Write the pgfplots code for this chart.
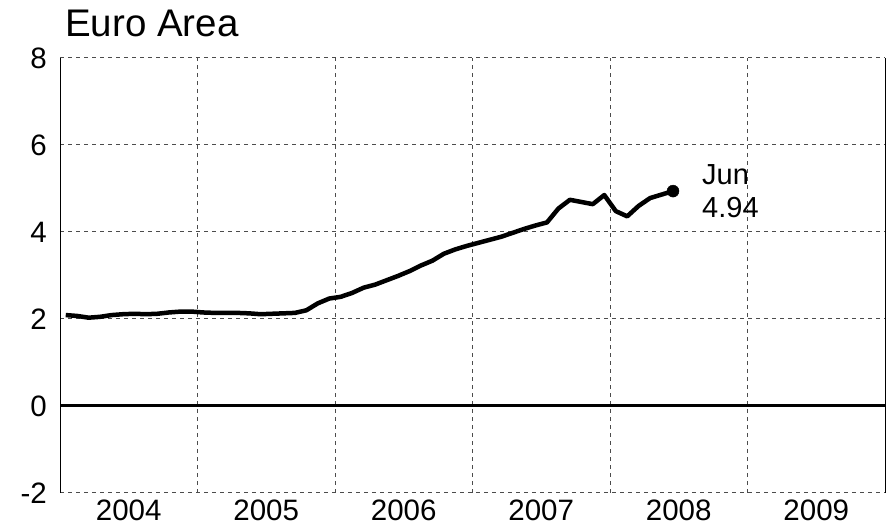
\documentclass[border=0pt]{standalone}
\usepackage{pgfplots}
\pgfplotsset{compat=1.18}
\usepackage{fontspec}
\setmainfont{Liberation Sans}
\begin{document}
\begin{tikzpicture}[x=1pt,y=1pt]
\useasboundingbox (-60,-36) rectangle (831,493);
\begin{axis}[
  at={(0,0)}, anchor=south west,
  scale only axis, width=825pt, height=435pt,
  xmin=2004, xmax=2010, ymin=-2, ymax=8,
  xtick={2004.5,2005.5,2006.5,2007.5,2008.5,2009.5},
  xticklabels={2004,2005,2006,2007,2008,2009},
  minor xtick={2005,2006,2007,2008,2009},
  ytick={-2,0,2,4,6,8},
  yticklabels={-2,0,2,4,6,8},
  xminorgrids, ymajorgrids,
  major tick length=0pt, minor tick length=0pt,
  grid style={line width=1pt, draw=black!70, dash pattern=on 4pt off 4pt},
  minor grid style={line width=1pt, draw=black!70, dash pattern=on 4pt off 4pt},
  axis line style={draw=none},
  tick label style={font=\fontsize{29.5}{29.5}\selectfont},
  xticklabel style={anchor=north, inner sep=0pt, yshift=-7pt},
  yticklabel style={anchor=east, inner sep=0pt, xshift=-13pt},
  clip=false,
]
\addplot[black, line width=3pt, forget plot] coordinates {(2004,0) (2010,0)};
\addplot[black, line width=4.5pt, line join=round] coordinates {
(2004.0417,2.09) (2004.1250,2.07) (2004.2083,2.03) (2004.2917,2.05) (2004.3750,2.09) (2004.4583,2.11)
(2004.5417,2.12) (2004.6250,2.11) (2004.7083,2.12) (2004.7917,2.15) (2004.8750,2.17) (2004.9583,2.17)
(2005.0417,2.15) (2005.1250,2.14) (2005.2083,2.14) (2005.2917,2.14) (2005.3750,2.13) (2005.4583,2.11)
(2005.5417,2.12) (2005.6250,2.13) (2005.7083,2.14) (2005.7917,2.20) (2005.8750,2.36) (2005.9583,2.47)
(2006.0417,2.51) (2006.1250,2.60) (2006.2083,2.72) (2006.2917,2.79) (2006.3750,2.89) (2006.4583,2.99)
(2006.5417,3.10) (2006.6250,3.23) (2006.7083,3.34) (2006.7917,3.50) (2006.8750,3.60) (2006.9583,3.68)
(2007.0417,3.75) (2007.1250,3.82) (2007.2083,3.89) (2007.2917,3.98) (2007.3750,4.07) (2007.4583,4.15)
(2007.5417,4.22) (2007.6250,4.54) (2007.7083,4.74) (2007.7917,4.69) (2007.8750,4.64) (2007.9583,4.85)
(2008.0417,4.48) (2008.1250,4.36) (2008.2083,4.60) (2008.2917,4.78) (2008.3750,4.86) (2008.4583,4.94)
};
\addplot[only marks, mark=*, mark size=6pt, black] coordinates {(2008.4583,4.94)};
\draw[black, line width=1pt] (rel axis cs:0,0) -- (rel axis cs:0,1);
\draw[black, line width=1pt] (rel axis cs:1,0) -- (rel axis cs:1,1);
\node[anchor=base west, inner sep=0pt, font=\fontsize{38.5}{38.5}\selectfont] at ([xshift=5pt,yshift=21pt]rel axis cs:0,1) {Euro Area};
\node[anchor=west, inner sep=0pt, align=left, font=\fontsize{29}{33}\selectfont] at ([xshift=29pt]axis cs:2008.4583,4.94) {Jun\\4.94};
\end{axis}
\end{tikzpicture}
\end{document}
